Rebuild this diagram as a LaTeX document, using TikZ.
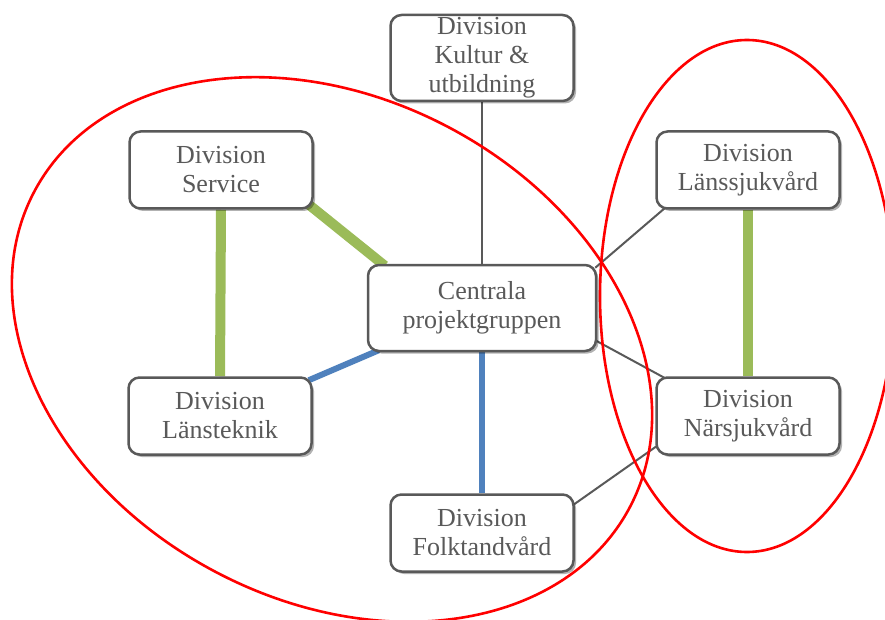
\documentclass[tikz,border=0pt]{standalone}
\usepackage{fontspec}
\setmainfont{Liberation Serif}
\usetikzlibrary{shadows,calc,backgrounds}
\definecolor{boxgray}{HTML}{595959}
\definecolor{lgreen}{HTML}{9BBB59}
\definecolor{lblue}{HTML}{4F81BD}
\definecolor{ringred}{HTML}{FF0000}
\begin{document}
\begin{tikzpicture}[x=1pt,y=-1pt,
  box/.style={draw=boxgray, line width=2.5pt, rounded corners=11pt, fill=white,
    text=boxgray, align=center, font=\fontsize{26}{29}\selectfont,
    minimum width=183pt, minimum height=77pt, inner sep=0pt,
    drop shadow={opacity=0.3, shadow xshift=2.5pt, shadow yshift=-2.5pt, fill=black}},
  greenlink/.style={draw=lgreen, line width=10pt},
  bluelink/.style={draw=lblue, line width=6pt},
  graylink/.style={draw=boxgray, line width=2pt},
  ring/.style={draw=ringred, line width=2.6pt}]
\useasboundingbox (0,0) rectangle (885,620);
\node[box, minimum height=86pt] (kult) at (482,58) {Division\\Kultur \&\\utbildning};
\node[box] (serv) at (221,170) {Division\\Service};
\node[box, minimum width=228pt, minimum height=86pt] (cent) at (482,308) {Centrala\\projektgruppen};
\node[box] (lans) at (748,170) {Division\\Länssjukvård};
\node[box] (lt) at (220,416) {Division\\Länsteknik};
\node[box] (nars) at (748,416) {Division\\Närsjukvård};
\node[box] (folk) at (482,533) {Division\\Folktandvård};
\begin{pgfonlayer}{background}
  \draw[graylink] (kult.south) -- (cent.north);
  \draw[greenlink] (serv.south) -- (lt.north);
  \draw[greenlink] ($(serv.south east)+(-6,-6)$) -- ($(cent.north west)+(18,2)$);
  \draw[bluelink] ($(lt.north east)+(-4,4)$) -- ($(cent.south west)+(12,-2)$);
  \draw[bluelink] (cent.south) -- (folk.north);
  \draw[greenlink] (lans.south) -- (nars.north);
  \draw[graylink] ($(cent.north east)+(-2,4)$) -- ($(lans.south west)+(10,-2)$);
  \draw[graylink] ($(cent.south east)+(-2,-12)$) -- ($(nars.north west)+(10,2)$);
  \draw[graylink] ($(folk.north east)+(-2,12)$) -- ($(nars.south west)+(2,-10)$);
  \draw[ring, rotate around={-28:(332,349.5)}] (332,349.5) ellipse [x radius=337pt, y radius=251pt];
  \draw[ring] (747,296) ellipse [x radius=147pt, y radius=256pt];
\end{pgfonlayer}
\end{tikzpicture}
\end{document}
